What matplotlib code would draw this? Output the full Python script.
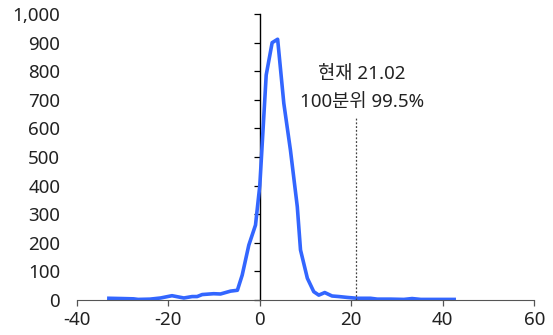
import matplotlib.pyplot as plt
from matplotlib.ticker import FuncFormatter

plt.rcParams['font.family'] = ['Noto Sans', 'Noto Sans CJK KR', 'DejaVu Sans']
plt.rcParams['axes.unicode_minus'] = False

# 분포 데이터
x_vals = [-33, -30, -27.6, -26.6, -24, -21.7, -19.2, -16.6, -14.8, -13.7, -12.6,
          -10.1, -8.6, -6.4, -4.9, -3.85, -2.4, -0.94, 0, 1.4, 2.7, 3.9, 5.25,
          6.7, 8.2, 8.9, 10.4, 11.8, 12.9, 14.2, 15.8, 17.3, 19.1, 21.3, 24.2,
          25.7, 28.6, 31.5, 33.3, 35.2, 38, 42.5]
y_vals = [6, 5, 4, 2, 3, 7, 15, 7, 12, 12, 19,
          22, 21, 31, 34, 87, 192, 262, 400, 787, 900, 912, 688,
          524, 326, 175, 76, 29, 17, 26, 14, 12, 9, 6, 6,
          3, 3, 2, 5, 2, 2, 2]

current = 21.02
current_top = 635
label_lines = ["현재 21.02", "100분위 99.5%"]

fig = plt.figure(figsize=(5.53, 3.35), dpi=100)
ax = fig.add_axes([0.139, 0.1045, 0.827, 0.8535])

ax.plot(x_vals, y_vals, color="#3366FF", lw=2.6, solid_joinstyle="round")
ax.vlines(current, 0, current_top, colors="#444444", linestyles=(0, (1.5, 1.5)), lw=0.9)
ax.text(22.3, 790, label_lines[0], ha="center", va="center", fontsize=13.5, color="#222222")
ax.text(22.3, 692, label_lines[1], ha="center", va="center", fontsize=13.5, color="#222222")

ax.set_xlim(-40, 60)
ax.set_ylim(0, 1000)
ax.set_xticks(range(-40, 61, 20))
ax.set_yticks(range(0, 1001, 100))
ax.yaxis.set_major_formatter(FuncFormatter(lambda v, p: f"{int(v):,}"))

for s in ["top", "right", "left"]:
    ax.spines[s].set_visible(False)
ax.spines["bottom"].set_color("#555555")
ax.tick_params(axis="y", length=0, pad=12, labelsize=13.5, colors="#222222")
ax.tick_params(axis="x", length=4, width=0.9, color="#555555", pad=4, labelsize=13.5,
               labelcolor="#222222")

# 0 위치의 세로축
loc = (0 - ax.get_xlim()[0]) / (ax.get_xlim()[1] - ax.get_xlim()[0])
sec = ax.secondary_yaxis(loc)
sec.set_yticks(range(0, 1001, 100))
sec.tick_params(axis="y", length=4, width=0.9, labelleft=False, labelright=False)
sec.spines["left"].set_color("black")
sec.spines["left"].set_linewidth(1.0)

fig.savefig("out.png", dpi=100)
